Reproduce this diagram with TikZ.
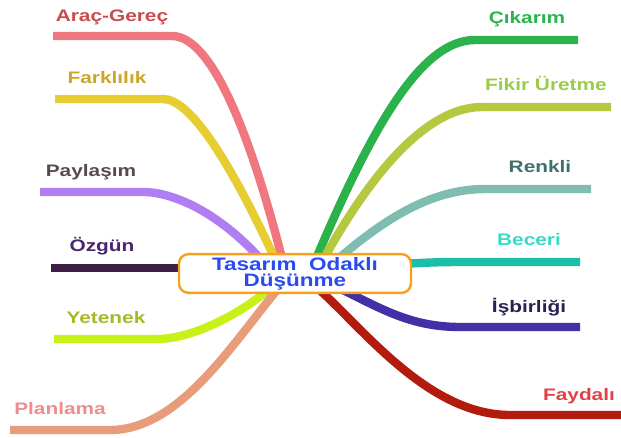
\documentclass[tikz,border=0pt]{standalone}
\usepackage{fontspec}
\newfontfamily\etiket[FakeStretch=1.25]{Liberation Sans}
\definecolor{cArac}{HTML}{F07680}   \definecolor{tArac}{HTML}{C84B50}
\definecolor{cFark}{HTML}{E6CD32}   \definecolor{tFark}{HTML}{CDA52A}
\definecolor{cPay}{HTML}{B07EF2}    \definecolor{tPay}{HTML}{5B4A4C}
\definecolor{cOzg}{HTML}{3F1E45}    \definecolor{tOzg}{HTML}{4A2570}
\definecolor{cYet}{HTML}{C8F11A}    \definecolor{tYet}{HTML}{A9B829}
\definecolor{cPlan}{HTML}{E89C79}   \definecolor{tPlan}{HTML}{F08C8C}
\definecolor{cCik}{HTML}{2BB24A}    \definecolor{tCik}{HTML}{2DB34C}
\definecolor{cFikir}{HTML}{B5C840}  \definecolor{tFikir}{HTML}{9ACB4A}
\definecolor{cRenk}{HTML}{7FBDB2}   \definecolor{tRenk}{HTML}{3F6F6E}
\definecolor{cBec}{HTML}{1BBFA8}    \definecolor{tBec}{HTML}{3DD9C3}
\definecolor{cIsb}{HTML}{4130A6}    \definecolor{tIsb}{HTML}{2C2150}
\definecolor{cFay}{HTML}{B21C0F}    \definecolor{tFay}{HTML}{E2404B}
\definecolor{kenar}{HTML}{F7A11A}   \definecolor{baslik}{HTML}{2A4BF0}
\begin{document}
\begin{tikzpicture}[x=0.75pt,y=-0.75pt,
	dal/.style={line width=6.3pt},
	yazi/.style={font=\etiket\bfseries\fontsize{12.5}{12}\selectfont,anchor=base,inner sep=0pt}]
	\useasboundingbox (0,0) rectangle (621,438);
	\coordinate (merkez) at (295,273);
	% sol dallar
	\coordinate (arac) at (53,36);
	\coordinate (fark) at (55,99);
	\coordinate (pay) at (40,192);
	\coordinate (ozg) at (51,268);
	\coordinate (yet) at (54,339);
	\coordinate (plan) at (10,430);
	\draw[dal,cArac] (arac) -- (172,36) .. controls (215,36) and (255,150) .. ([shift={(-10,-3)}]merkez);
	\draw[dal,cFark] (fark) -- (163,99) .. controls (190,99) and (230,160) .. ([shift={(-15,-3)}]merkez);
	\draw[dal,cPay] (pay) -- (143,192) .. controls (175,192) and (225,215) .. ([shift={(-25,-3)}]merkez);
	\draw[dal,cOzg] (ozg) -- ([shift={(-40,-5)}]merkez);
	\draw[dal,cYet] (yet) -- (157,339) .. controls (195,339) and (250,310) .. ([shift={(-10,2)}]merkez);
	\draw[dal,cPlan] (plan) -- (110,430) .. controls (185,430) and (240,330) .. ([shift={(-5,2)}]merkez);
	% sag dallar
	\coordinate (cik) at (578,40);
	\coordinate (fikir) at (611,107);
	\coordinate (renk) at (591,189);
	\coordinate (bec) at (580,262);
	\coordinate (isb) at (580,327);
	\coordinate (fay) at (621,415);
	\draw[dal,cCik] ([shift={(15,0)}]merkez) .. controls (370,130) and (420,40) .. (475,40) -- (cik);
	\draw[dal,cFikir] ([shift={(20,2)}]merkez) .. controls (360,190) and (420,107) .. (482,107) -- (fikir);
	\draw[dal,cRenk] ([shift={(25,2)}]merkez) .. controls (380,220) and (430,189) .. (485,189) -- (renk);
	\draw[dal,cBec] ([shift={(20,-7)}]merkez) .. controls (400,266) and (410,262) .. (460,262) -- (bec);
	\draw[dal,cIsb] ([shift={(15,2)}]merkez) .. controls (370,300) and (400,327) .. (460,327) -- (isb);
	\draw[dal,cFay] ([shift={(10,5)}]merkez) .. controls (350,310) and (420,415) .. (510,415) -- (fay);
	% merkez kutu
	\node[draw=kenar,line width=1.8pt,fill=white,rounded corners=7pt,minimum width=174pt,minimum height=29pt,
		inner sep=0pt,align=center,text=baslik,font=\etiket\bfseries\fontsize{13.5}{12}\selectfont]
		(kutu) at (295,273.5) {Tasarım\ \ Odaklı\\Düşünme};
	% etiketler
	\node[yazi,text=tArac] (lArac) at (112,22) {Araç-Gereç};
	\node[yazi,text=tFark] (lFark) at (107,84) {Farklılık};
	\node[yazi,text=tPay] (lPay) at (91,177) {Paylaşım};
	\node[yazi,text=tOzg] (lOzg) at (102,252) {Özgün};
	\node[yazi,text=tYet] (lYet) at (106,323) {Yetenek};
	\node[yazi,text=tPlan] (lPlan) at (60,414) {Planlama};
	\node[yazi,text=tCik] (lCik) at (527,24) {Çıkarım};
	\node[yazi,text=tFikir] (lFikir) at (546,91) {Fikir Üretme};
	\node[yazi,text=tRenk] (lRenk) at (540,173) {Renkli};
	\node[yazi,text=tBec] (lBec) at (529,246) {Beceri};
	\node[yazi,text=tIsb] (lIsb) at (529,312) {İşbirliği};
	\node[yazi,text=tFay] (lFay) at (579,400) {Faydalı};
\end{tikzpicture}
\end{document}
